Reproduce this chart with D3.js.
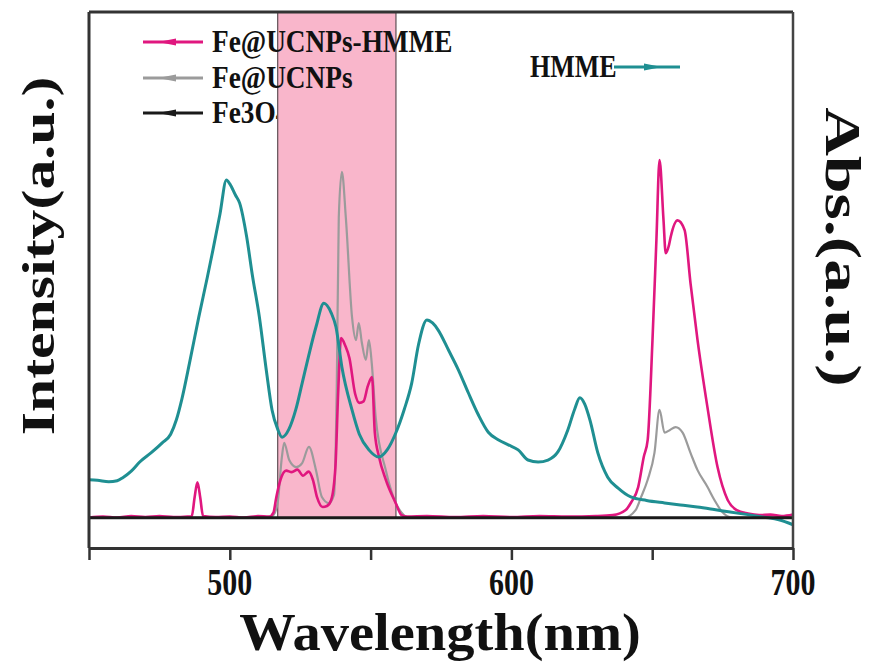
<!DOCTYPE html>
<html><head><meta charset="utf-8">
<script src="https://cdn.jsdelivr.net/npm/d3@7"></script>
<style>body{margin:0;background:#fff}</style>
</head><body><svg id="c" width="876" height="663"></svg>
<script>
// ---- data ----
const xTicks = [450, 500, 550, 600, 650, 700];
const xTickLabels = ["", "500", "", "600", "", "700"];
const bandRange = [517, 559];

const hmmeWl = [450,453,457,460,462,465,468,472,476,479,481,483,485.7,489,492,494,496.5,498.8,500,502,503.5,506,508,510.5,513,515,517,518.6,521,523.5,525.7,528,530.6,533.4,536,537.7,539.8,543.4,546,549.4,552.9,556,558.9,562,564.6,567,570,572,574,577.7,581.2,584.7,588.3,591.8,595.3,598.9,602.4,605.9,609.5,613,616.5,620,622.5,624.3,626,627.9,630.7,634.2,638,642.4,648,654.4,660,666,672,677.7,684,689.7,695,700];
const hmmeAbs = [7.5,7.4,7.1,7.3,7.9,9.2,11.0,12.8,14.8,16.5,19.3,23.5,30.6,39.7,47.5,52.9,60,66.8,66.0,63.8,62.2,55.5,48,39.7,29,21.3,17.5,15.9,17.5,21.5,26.6,32,37.7,42.4,40.5,37.7,29.8,21.3,16.5,13.4,12.0,13.5,16.7,21.5,26.6,34.2,39.1,38.5,37.1,33.1,29.2,24.7,20.3,16.9,15.4,14.4,13.4,11.4,11.0,11.4,13.0,17.3,21.5,23.7,22.5,19.3,12.8,8.0,5.8,4.1,3.4,2.9,2.5,2.1,1.6,1.1,0.6,0.1,-0.4,-1.4];

const ucnpHmmeWl = [450,455,460,465,470,475,480,485,486.5,487.5,488.5,489.5,490.5,495,500,505,510,514,515.5,516.5,518,520,522,524,526,528,529.5,531,533,534.5,536,537.5,538.5,539.5,541,542.5,544.5,546,547.5,549,550.5,551.5,553,555.4,558.9,561,563,570,580,590,600,610,620,630,636,640.6,642.5,645,647,648.4,650.1,651.5,652.6,654,654.8,656,656.6,659,661.5,663.6,666.1,669.6,673.2,676.8,680,684,688,692,696,700];
const ucnpHmmeInt = [0,0.2,0,0.3,0.1,0.3,0.1,0.2,0.3,4,7,4,0.3,0.1,0.2,0,0.3,0.2,1,4,7.5,9.3,9.0,9.5,8.3,9.1,7.5,4,2.1,2.3,3.5,10,25,35.5,34,31.5,24.5,22.7,23,26,27.8,16.8,12,7.5,2.9,0.5,0.2,0.3,0.1,0.3,0.1,0.3,0.2,0.3,0.5,1.5,3,6,12,15.4,35.1,55,70.7,59,52.3,54,55.6,58.8,56.9,46.4,35.1,21.9,10,3.5,1.5,0.8,0.5,0.6,0.3,0.6];

const ucnpWl = [450,500,514,515.5,517,518.5,519.3,521.1,523.6,525.7,528.1,530.6,532.7,535.2,537,538,538.7,539.8,541.2,543.4,544.8,545.8,546.9,548.3,549.4,550.4,551.8,555.4,558.9,561,563.5,600,640,644.1,646,648.4,650.8,652.6,654.4,656.2,658.3,660.8,663.6,666.1,669.6,672.1,674.9,678.4,700];
const ucnpInt = [0,0,0,0.5,3,12,14.8,11.4,10.0,10.8,14.0,9.4,4.1,2.9,4.5,26.6,59.4,68.4,59.4,39.7,35.1,38.5,34.6,31.2,35.1,30.6,19.9,9.4,2.9,1,0,0,0,1.5,4,7.5,12.8,21.3,16.8,17.3,17.9,16.8,12.8,9.4,6.1,3.5,1.1,0,0];

const fe3o4Wl = [450,700];
const fe3o4Int = [0,0];

const legendNames = ["Fe@UCNPs-HMME", "Fe@UCNPs", "Fe3O4"];
const legendColors = ["#e0177f", "#9b9b9b", "#1a1a1a"];
const hmmeName = "HMME";

// ---- chart ----
const svg = d3.select("#c");
const x = d3.scaleLinear().domain([450, 700]).range([89, 793]);
const y = d3.scaleLinear().domain([-6, 100]).range([548, 12]);
const FONT = "'Liberation Serif','Times New Roman',serif";
const TEAL = "#1f8f92";

svg.append("rect").attr("width", 876).attr("height", 663).attr("fill", "#fff");

function stretchedText(g, tx, ty, str, size, sx, sy, rot, anchor) {
  const gg = g.append("g").attr("transform", `translate(${tx},${ty}) rotate(${rot}) scale(${sx},${sy})`);
  return gg.append("text").attr("x", 0).attr("y", 0)
    .attr("font-family", FONT).attr("font-weight", "bold")
    .attr("font-size", size).attr("fill", "#111")
    .attr("text-anchor", anchor || "start").text(str);
}

// legend text that sits under the band
stretchedText(svg, 212, 123, legendNames[2], 26, 1.05, 1.2, 0);

// band
svg.append("rect")
  .attr("x", x(bandRange[0])).attr("y", y(100))
  .attr("width", x(bandRange[1]) - x(bandRange[0]))
  .attr("height", y(0) - y(100))
  .attr("fill", "#f9b6cb");
[bandRange[0], bandRange[1]].forEach(v => {
  svg.append("line").attr("x1", x(v)).attr("x2", x(v)).attr("y1", y(100)).attr("y2", y(0))
    .attr("stroke", "#6b5a60").attr("stroke-width", 1.3);
});

const line = d3.line().x(d => x(d[0])).y(d => y(d[1])).curve(d3.curveMonotoneX);
function zip(a, b) { return a.map((v, i) => [v, b[i]]); }

svg.append("path").datum(zip(ucnpWl, ucnpInt)).attr("d", line)
  .attr("fill", "none").attr("stroke", legendColors[1]).attr("stroke-width", 2.2);
svg.append("path").datum(zip(ucnpHmmeWl, ucnpHmmeInt)).attr("d", line)
  .attr("fill", "none").attr("stroke", legendColors[0]).attr("stroke-width", 2.6);
svg.append("path").datum(zip(hmmeWl, hmmeAbs)).attr("d", line)
  .attr("fill", "none").attr("stroke", TEAL).attr("stroke-width", 3);
svg.append("path").datum(zip(fe3o4Wl, fe3o4Int)).attr("d", line)
  .attr("fill", "none").attr("stroke", legendColors[2]).attr("stroke-width", 3);

// frame
svg.append("line").attr("x1", 89).attr("x2", 793).attr("y1", 12).attr("y2", 12)
  .attr("stroke", "#333").attr("stroke-width", 3);
svg.append("line").attr("x1", 89).attr("x2", 89).attr("y1", 12).attr("y2", 548)
  .attr("stroke", "#333").attr("stroke-width", 3);
svg.append("line").attr("x1", 793).attr("x2", 793).attr("y1", 12).attr("y2", 548)
  .attr("stroke", "#444").attr("stroke-width", 2.5);

const xAxis = d3.axisBottom(x).tickValues(xTicks)
  .tickFormat((d, i) => xTickLabels[i]).tickSize(12).tickSizeOuter(0);
const gx = svg.append("g").attr("transform", "translate(0,548)").call(xAxis);
gx.select(".domain").attr("stroke", "#333").attr("stroke-width", 3);
gx.selectAll(".tick line").attr("stroke", "#333").attr("stroke-width", 2.5);
gx.selectAll(".tick text").remove();
xTicks.forEach((t, i) => {
  if (xTickLabels[i]) stretchedText(svg, x(t), 595, xTickLabels[i], 30, 1, 1.25, 0, "middle");
});

// axis titles
stretchedText(svg, 440, 650, "Wavelength(nm)", 50, 1.13, 1.05, 0, "middle");
stretchedText(svg, 54, 256, "Intensity(a.u.)", 46, 1.3, 1, -90, "middle");
stretchedText(svg, 826, 247, "Abs.(a.u.)", 50, 1.35, 1, 90, "middle");

// legend
const legY = [42, 78, 113];
legendNames.forEach((n, i) => {
  svg.append("line").attr("x1", 143).attr("x2", 203).attr("y1", legY[i]).attr("y2", legY[i])
    .attr("stroke", legendColors[i]).attr("stroke-width", 3);
  svg.append("path").attr("d", `M158,${legY[i]} L176,${legY[i] - 3.5} L176,${legY[i] + 3.5} Z`)
    .attr("fill", legendColors[i]);
  if (i < 2) stretchedText(svg, 212, legY[i] + 10, n, 26, 1.05, 1.2, 0);
});
stretchedText(svg, 530, 77, hmmeName, 26, 1.0, 1.2, 0);
svg.append("line").attr("x1", 614).attr("x2", 680).attr("y1", 67).attr("y2", 67)
  .attr("stroke", TEAL).attr("stroke-width", 3);
svg.append("path").attr("d", "M662,67 L644,63.5 L644,70.5 Z").attr("fill", TEAL);
</script>
</body></html>
